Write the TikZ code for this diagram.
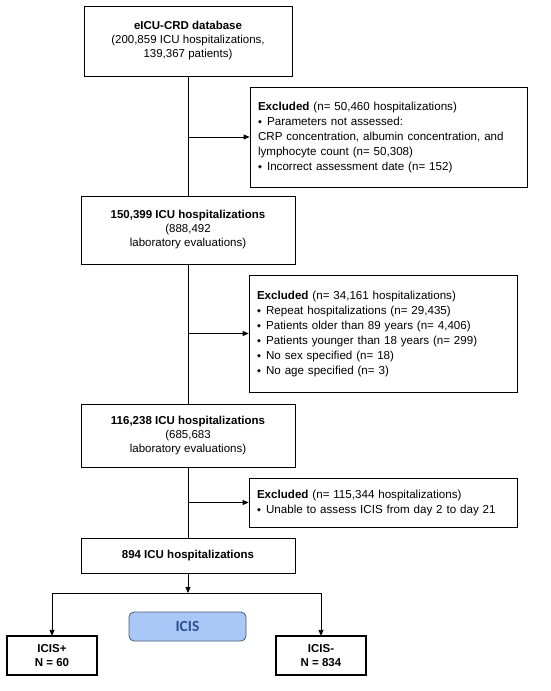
\documentclass[tikz,border=0pt]{standalone}
\usepackage{fontspec}
\setmainfont{Liberation Sans}
\newfontfamily\dejavu{DejaVu Sans}
\newfontfamily\carlito{Carlito}
\usetikzlibrary{arrows.meta}
\definecolor{icisfill}{HTML}{A9C8F8}
\definecolor{icisborder}{HTML}{4A5A70}
\definecolor{icistext}{HTML}{2F4F8F}
\newcommand{\bul}{{\dejavu\fontsize{5}{5}\selectfont\raisebox{1.6pt}{◆}}\hspace{0.45em}}
\tikzset{
  mainbox/.style={draw, line width=0.8pt, align=center, inner sep=0pt, font=\fontsize{11.5}{14}\selectfont},
  exclbox/.style={draw, line width=0.8pt, align=left, inner sep=8pt, anchor=center, font=\fontsize{11.6}{15}\selectfont},
  groupbox/.style={draw, line width=2.2pt, align=center, inner sep=0pt, minimum width=90pt, minimum height=39pt, font=\bfseries\fontsize{11.5}{14}\selectfont},
  conn/.style={line width=0.8pt},
  arr/.style={line width=0.8pt, -{Triangle[length=6pt,width=5pt]}}
}
\begin{document}
\begin{tikzpicture}[x=1pt,y=-1pt]
\useasboundingbox (0,0) rectangle (550,691);
% main boxes
\node[mainbox, minimum width=208pt, minimum height=70pt] (b1) at (188,41)
  {\textbf{eICU-CRD database}\\(200,859 ICU hospitalizations,\\139,367 patients)};
\node[mainbox, minimum width=214pt, minimum height=68pt] (b2) at (188,230)
  {\textbf{150,399 ICU hospitalizations}\\(888,492\\laboratory evaluations)};
\node[mainbox, minimum width=214pt, minimum height=63pt] (b3) at (188,435.5)
  {\textbf{116,238 ICU hospitalizations}\\(685,683\\laboratory evaluations)};
\node[mainbox, minimum width=214pt, minimum height=35pt] (b4) at (188,555.5)
  {\textbf{894 ICU hospitalizations}};
% exclusion boxes
\node[exclbox, minimum width=277pt, minimum height=100pt, text width=261pt] (e1) at (388.5,137)
  {\textbf{Excluded} (n= 50,460 hospitalizations)\\
   \bul Parameters not assessed:\\
   CRP concentration, albumin concentration, and\\
   lymphocyte count (n= 50,308)\\
   \bul Incorrect assessment date (n= 152)};
\node[exclbox, minimum width=268pt, minimum height=117pt, text width=252pt] (e2) at (383,333.5)
  {\textbf{Excluded} (n= 34,161 hospitalizations)\\
   \bul Repeat hospitalizations (n= 29,435)\\
   \bul Patients older than 89 years (n= 4,406)\\
   \bul Patients younger than 18 years (n= 299)\\
   \bul No sex specified (n= 18)\\
   \bul No age specified (n= 3)};
\node[exclbox, minimum width=268pt, minimum height=49pt, text width=252pt] (e3) at (383,502.5)
  {\textbf{Excluded} (n= 115,344 hospitalizations)\\
   \bul Unable to assess ICIS from day 2 to day 21};
% groups
\node[groupbox] (gp) at (52,655.5) {ICIS+\\N = 60};
\node[groupbox] (gm) at (321,655.5) {ICIS-\\N = 834};
\node[draw=icisborder, fill=icisfill, rounded corners=5pt, line width=0.8pt, minimum width=117pt, minimum height=29pt, inner sep=0pt, text=icistext, font=\carlito\bfseries\fontsize{15.5}{17}\selectfont] (icis) at (187.5,626.5) {ICIS};
% connectors
\draw[conn] (b1) -- (b2);
\draw[conn] (b2) -- (b3);
\draw[conn] (b3) -- (b4);
\draw[arr] (b1 |- e1.west) -- (e1.west);
\draw[arr] (b2 |- e2.west) -- (e2.west);
\draw[arr] (b3 |- e3.west) -- (e3.west);
\coordinate (split) at (188,593);
\coordinate (splitL) at (gp.north |- split);
\coordinate (splitR) at (gm.north |- split);
\draw[arr] (b4) -- (split);
\draw[conn] (splitL) -- (splitR);
\draw[arr] (splitL) -- ([yshift=-1pt]gp.north);
\draw[arr] (splitR) -- ([yshift=-1pt]gm.north);
\end{tikzpicture}
\end{document}
